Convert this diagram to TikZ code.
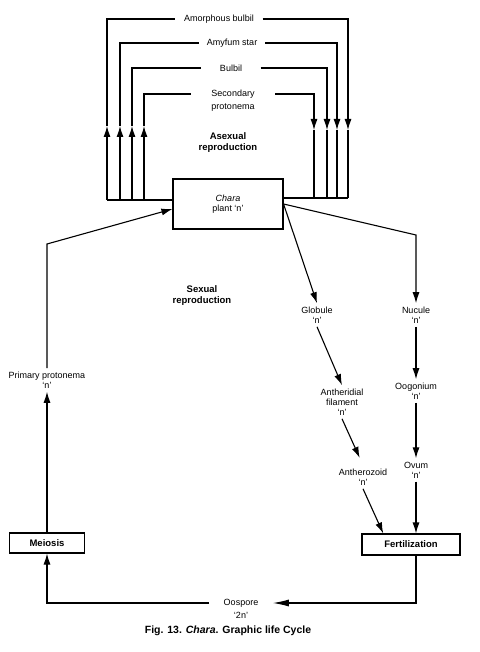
\documentclass[tikz,border=0pt]{standalone}
\usepackage{fontspec}
\setmainfont{Liberation Sans}
\usetikzlibrary{arrows.meta,positioning,calc}

\begin{document}
\begin{tikzpicture}[
  x=1pt, y=-1pt, line width=1.1pt,
  txt/.style={font=\fontsize{9}{10}\selectfont, align=center, inner sep=3pt},
  head/.style={font=\fontsize{9.5}{11}\selectfont\bfseries, align=center},
  stage/.style={rectangle, draw, font=\fontsize{9.5}{11}\selectfont\bfseries, align=center},
  flow/.style={-{Latex[length=11pt,width=7pt]}},
  gap/.style={txt, inner xsep=0pt}
]
\useasboundingbox (0,0) rectangle (479,652);

\node[txt, draw, minimum width=110pt, minimum height=50pt] at (228,204) (chara) {\textit{Chara}\\plant `n'};
\node[stage, minimum width=75pt, minimum height=20pt] at (47,543) (meio) {Meiosis};
\node[stage, minimum width=98pt, minimum height=21pt] at (411,544.5) (fert) {Fertilization};

\node[gap, minimum width=86pt] at (219,19) (amb) {Amorphous bulbil};
\node[gap, minimum width=65pt] at (232,43) (ams) {Amyfum star};
\node[gap, minimum width=58pt] at (231,68) (bul) {Bulbil};
\node[gap, minimum width=83pt, label={[txt,inner sep=1pt]below:protonema}] at (233,94) (sec) {Secondary};
\node[head] at (228,143) (asex) {Asexual\\reproduction};
\node[head] at (202,296) (sex) {Sexual\\reproduction};

\node[txt] at (47,380)  (prim) {Primary protonema\\`n'};
\node[txt] at (317,315) (glob) {Globule\\`n'};
\node[txt] at (342,402) (anth) {Antheridial\\filament\\`n'};
\node[txt] at (363,477) (antz) {Antherozoid\\`n'};
\node[txt] at (416,315) (nuc)  {Nucule\\`n'};
\node[txt] at (416,391) (oog)  {Oogonium\\`n'};
\node[txt] at (416,470) (ovum) {Ovum\\`n'};
\node[gap, inner xsep=14pt, label={[txt,inner sep=1pt]below:`2n'}] at (241,603) (oosp) {Oospore};

\node[font=\fontsize{10.5}{12}\selectfont\bfseries] at (228,631) (cap) {Fig. 13. \textit{Chara}. Graphic life Cycle};

\draw (chara.west |- 0,200) -- (107,200);
\draw (chara.east |- 0,198) -- (348,198);
\foreach \xl/\xr/\lbl in {107/348/amb, 120/337/ams, 132/327/bul, 144/314/sec} {
  \draw[flow] (\xl,200) -- (\xl,126);
  \draw (\xl,126) |- (\lbl.west);
  \draw[flow] (\lbl.east) -| (\xr,130);
  \draw (\xr,130) -- (\xr,198);
}

\draw[flow] (prim.north) -- (prim.north |- 0,244) -- ([yshift=-5pt]chara.west);
\draw[flow] (chara.east) -- (glob.north);
\draw[flow] (chara.east) -- (nuc.north |- 0,235) -- (nuc.north);
\draw[flow] (glob.south) -- (anth.north);
\draw[flow, shorten >=8pt] (anth.south) -- (antz.north);
\draw[flow] (antz.south) -- ($(fert.north west)!0.22!(fert.north east)$);
\draw[flow] (nuc.south) -- (oog.north);
\draw[flow] (oog.south) -- (ovum.north);
\draw[flow] (ovum.south) -- (ovum.south |- fert.north);
\draw[-{Latex[length=16pt,width=7pt]}] (ovum |- fert.south) |- (oosp.east);
\draw[flow] (oosp.west) -| (meio.south);
\draw[flow] (meio.north) -- (prim.south);
\end{tikzpicture}
\end{document}
